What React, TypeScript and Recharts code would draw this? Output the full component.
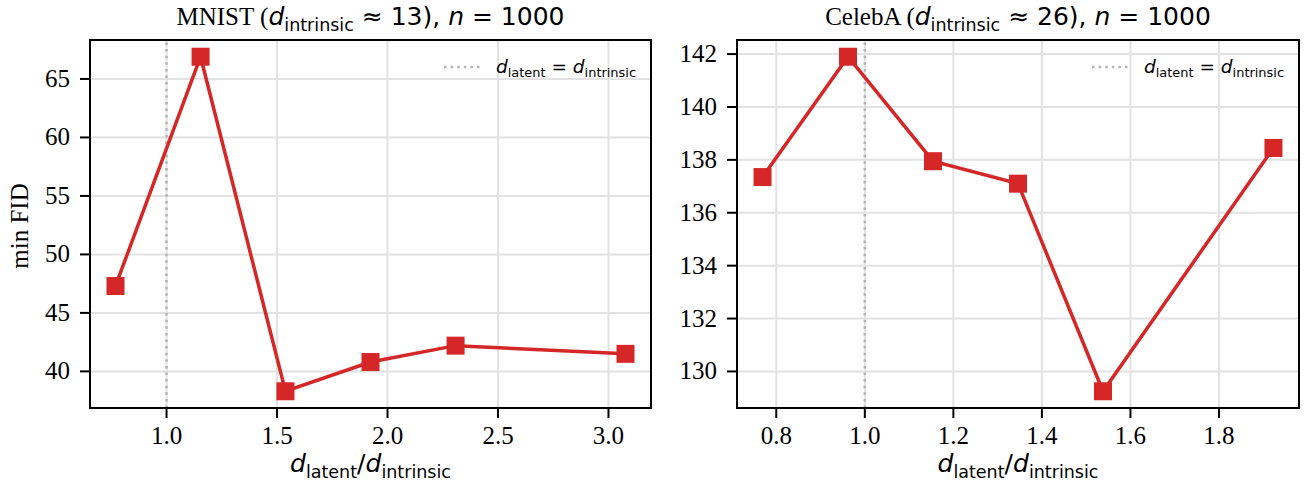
import React from 'react';
import { LineChart, Line, XAxis, YAxis, CartesianGrid, ReferenceLine, ReferenceArea } from 'recharts';

const RED = '#d62728';
const SERIF = '"Liberation Serif", "DejaVu Serif", serif';
const SANS = '"DejaVu Sans", sans-serif';

// MNIST (d_intrinsic ≈ 13), n = 1000
const mnistRatio = [0.769, 1.154, 1.538, 1.923, 2.308, 3.077];
const mnistFid = [47.3, 66.9, 38.3, 40.8, 42.2, 41.5];
const mnistXTicks = [1.0, 1.5, 2.0, 2.5, 3.0];
const mnistYTicks = [40, 45, 50, 55, 60, 65];

// CelebA (d_intrinsic ≈ 26), n = 1000
const celebaRatio = [0.769, 0.962, 1.154, 1.346, 1.538, 1.923];
const celebaFid = [137.35, 141.9, 137.95, 137.1, 129.25, 138.45];
const celebaXTicks = [0.8, 1.0, 1.2, 1.4, 1.6, 1.8];
const celebaYTicks = [130, 132, 134, 136, 138, 140, 142];

type Part = { t: string; it?: boolean; sub?: boolean; serif?: boolean };

// matplotlib-style 5% margins around the data
const padded = (v: number[]): [number, number] => {
  const lo = Math.min(...v);
  const hi = Math.max(...v);
  const m = (hi - lo) * 0.05;
  return [lo - m, hi + m];
};

// mathtext-ish text: italic symbols, upright subscripts
const MathText = ({ parts, size, ...rest }: { parts: Part[]; size: number; [k: string]: any }) => {
  const shift = size * 0.22;
  let inSub = false;
  return (
    <text fontSize={size} fontFamily={SANS} fill="#000" {...rest}>
      {parts.map((p, i) => {
        let dy = 0;
        if (p.sub && !inSub) dy = shift;
        if (!p.sub && inSub) dy = -shift;
        inSub = !!p.sub;
        return (
          <tspan
            key={i}
            dy={dy}
            fontStyle={p.it ? 'italic' : 'normal'}
            fontSize={p.sub ? size * 0.7 : size}
            fontFamily={p.serif ? SERIF : SANS}
            style={{ whiteSpace: 'pre' }}
          >
            {p.t}
          </tspan>
        );
      })}
    </text>
  );
};

const ratioLabel: Part[] = [
  { t: 'd', it: true },
  { t: 'latent', sub: true },
  { t: '/' },
  { t: 'd', it: true },
  { t: 'intrinsic', sub: true },
];

const legendLabel: Part[] = [
  { t: 'd', it: true },
  { t: 'latent', sub: true },
  { t: ' = ' },
  { t: 'd', it: true },
  { t: 'intrinsic', sub: true },
];

const titleParts = (name: string, dim: number): Part[] => [
  { t: `${name} (`, serif: true },
  { t: 'd', it: true },
  { t: 'intrinsic', sub: true },
  { t: ` \u2248 ${dim}), ` },
  { t: 'n', it: true },
  { t: ' = 1000' },
];

const Square = (p: any) =>
  p.cx == null ? null : (
    <rect key={`sq-${p.index}`} x={p.cx - 9} y={p.cy - 9} width={18} height={18} fill={RED} />
  );

const tickFont = { fontFamily: SERIF, fontSize: 25, fill: '#000' };

// serif tick labels, drawn at the position recharts hands us
const XTick = ({ x, y, payload }: any) => (
  <text x={x} y={y} dy={18} textAnchor="middle" style={tickFont}>
    {Number(payload.value).toFixed(1)}
  </text>
);

const YTick = ({ x, y, payload }: any) => (
  <text x={x} y={y} dy={8} textAnchor="end" style={tickFont}>
    {payload.value}
  </text>
);

interface PanelProps {
  ratio: number[];
  fid: number[];
  xTicks: number[];
  yTicks: number[];
  width: number;
  axisWidth: number;
  title: Part[];
  yLabel?: string;
  left: number;
}

const TOP = 40;
const BOTTOM = 408;

const Panel = ({ ratio, fid, xTicks, yTicks, width, axisWidth, title, yLabel, left }: PanelProps) => {
  const data = ratio.map((r, i) => ({ r, fid: fid[i] }));
  const xDom = padded(ratio);
  const yDom = padded(fid);
  const plotLeft = axisWidth;
  const plotRight = width - 9;
  const mid = (plotLeft + plotRight) / 2;

  return (
    <div style={{ position: 'absolute', left, top: 0, width, height: 488 }}>
      <LineChart
        width={width}
        height={488}
        data={data}
        margin={{ top: TOP, right: 9, bottom: 0, left: 0 }}
        style={{ fontFamily: SERIF }}
      >
        <CartesianGrid stroke="#e2e2e2" strokeWidth={2} />
        <XAxis
          type="number"
          dataKey="r"
          domain={xDom}
          ticks={xTicks}
          allowDataOverflow
          height={80}
          tick={XTick}
          tickSize={10}
          tickMargin={8}
          axisLine={{ stroke: '#000', strokeWidth: 2 }}
          tickLine={{ stroke: '#000', strokeWidth: 2 }}
        />
        <YAxis
          type="number"
          domain={yDom}
          ticks={yTicks}
          allowDataOverflow
          width={axisWidth}
          tick={YTick}
          tickSize={10}
          tickMargin={10}
          axisLine={{ stroke: '#000', strokeWidth: 2 }}
          tickLine={{ stroke: '#000', strokeWidth: 2 }}
        />
        <ReferenceLine x={1} stroke="#b3b3b3" strokeWidth={2.5} strokeDasharray="2.5 4.1" />
        <Line
          type="linear"
          dataKey="fid"
          stroke={RED}
          strokeWidth={3.5}
          dot={Square}
          activeDot={false}
          isAnimationActive={false}
        />
        <ReferenceArea
          x1={xDom[0]}
          x2={xDom[1]}
          y1={yDom[0]}
          y2={yDom[1]}
          fill="none"
          stroke="#000"
          strokeWidth={2}
          ifOverflow="visible"
        />
      </LineChart>
      <svg
        width={width}
        height={488}
        style={{ position: 'absolute', left: 0, top: 0, pointerEvents: 'none' }}
      >
        <MathText parts={title} size={25} x={mid} y={25} textAnchor="middle" />
        <MathText parts={ratioLabel} size={25} x={mid} y={472} textAnchor="middle" />
        <line
          x1={plotRight - 207}
          x2={plotRight - 170}
          y1={67}
          y2={67}
          stroke="#b3b3b3"
          strokeWidth={2.5}
          strokeDasharray="2.5 4.1"
        />
        <MathText parts={legendLabel} size={18.5} x={plotRight - 155} y={73} />
        {yLabel && (
          <text
            x={0}
            y={0}
            transform={`translate(28, ${(TOP + BOTTOM) / 2 + 2}) rotate(-90)`}
            textAnchor="middle"
            style={{ fontFamily: SERIF, fontSize: 25, fill: '#000' }}
          >
            {yLabel}
          </text>
        )}
      </svg>
    </div>
  );
};

export default function App() {
  return (
    <div
      style={{
        position: 'absolute',
        left: 0,
        top: 0,
        width: 1308,
        height: 488,
        background: '#fff',
        overflow: 'hidden',
      }}
    >
      <Panel
        left={0}
        width={660}
        axisWidth={90}
        ratio={mnistRatio}
        fid={mnistFid}
        xTicks={mnistXTicks}
        yTicks={mnistYTicks}
        title={titleParts('MNIST', 13)}
        yLabel="min FID"
      />
      <Panel
        left={660}
        width={648}
        axisWidth={77}
        ratio={celebaRatio}
        fid={celebaFid}
        xTicks={celebaXTicks}
        yTicks={celebaYTicks}
        title={titleParts('CelebA', 26)}
      />
    </div>
  );
}
